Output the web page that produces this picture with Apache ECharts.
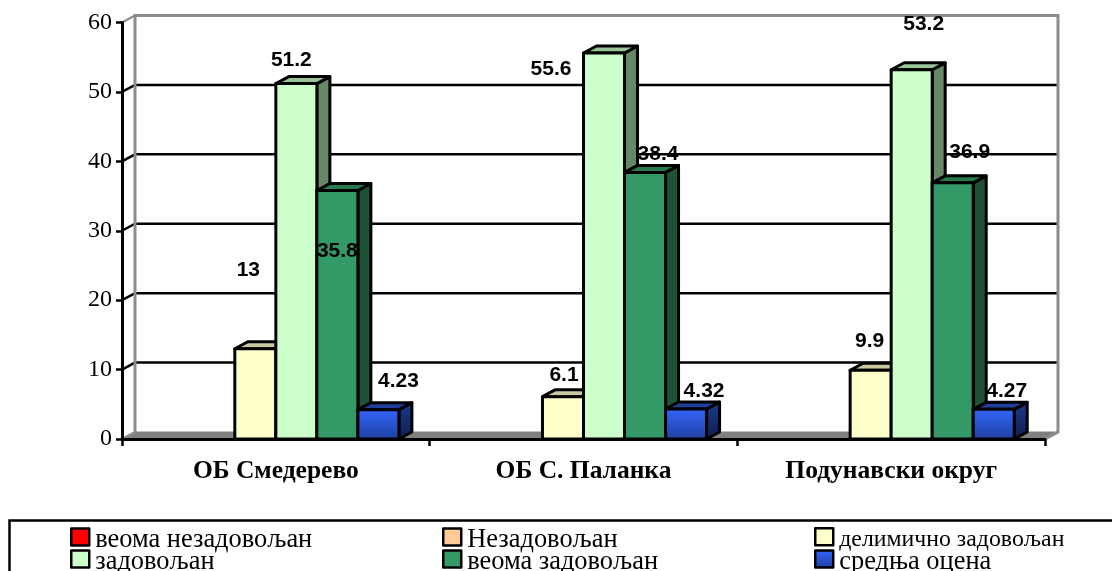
<!DOCTYPE html>
<html>
<head>
<meta charset="utf-8">
<style>html,body{margin:0;padding:0;background:#fff}#c{width:1112px;height:571px}</style>
<script src="https://cdn.jsdelivr.net/npm/echarts@6/dist/echarts.min.js"></script>
</head>
<body>
<div id="c"></div>
<script>
// Survey scores per district
const categories = ['ОБ Смедерево', 'ОБ С. Паланка', 'Подунавски округ'];
const seriesNames = ['веома незадовољан', 'Незадовољан', 'делимично задовољан', 'задовољан', 'веома задовољан', 'средња оцена'];
const veryDissatisfied = [null, null, null];
const dissatisfied = [null, null, null];
const partlySatisfied = [13, 6.1, 9.9];
const satisfied = [51.2, 55.6, 53.2];
const verySatisfied = [35.8, 38.4, 36.9];
const averageScore = [4.23, 4.32, 4.27];
const yTicks = [0, 10, 20, 30, 40, 50, 60];

// Hand placement of the value labels, pixels from the top centre of each bar
const labelShift = {
  2: [[-7, -79], [1, -21], [-1, -29]],
  3: [[-5, -23], [-53, 16], [12, -46]],
  4: [[0, 61], [13, -18], [17, -31]],
  5: [[20, -28], [18, -18], [13, -18]]
};

// Legend slots: column left edge, row top, and text size per entry
const legendColumns = [70, 442, 814];
const legendRows = [527, 549];
const legendFontSizes = [26.4, 26.4, 23.8, 26.4, 26.4, 26.4];

// Pseudo-3D depth of the bars and walls
const DX = 13, DY = 7;
const BARS_PER_BAND = 7.5;
const WALL = '#8c8c8c';

const vgrad = (a, b) => ({type: 'linear', x: 0, y: 0, x2: 0, y2: 1, colorStops: [{offset: 0, color: a}, {offset: 1, color: b}]});

const palette = [
  {front: '#ff0000', top: '#b00000', side: '#800000'},
  {front: '#ffcc99', top: '#c4a07a', side: '#997a5c'},
  {front: '#ffffcc', top: '#c9c99f', side: '#999979'},
  {front: '#ccffcc', top: '#99c499', side: '#668866'},
  {front: '#339966', top: '#267a4e', side: '#1d5236'},
  {front: vgrad('#3366ff', '#1f3f9c'), top: '#1f3f9c', side: vgrad('#1c3a8e', '#0e1d4c')}
];

function barItem(params, api, idx) {
  const v = api.value(1);
  if (v == null || isNaN(v)) return null;
  const w = api.size([1, 0])[0] / BARS_PER_BAND;
  const centre = api.coord([api.value(0), 0]);
  const topPt = api.coord([api.value(0), v]);
  const x0 = centre[0] + (idx - 3) * w, x1 = x0 + w;
  const yb = centre[1], yt = topPt[1];
  const line = {stroke: '#000', lineWidth: 3, lineJoin: 'round'};
  const c = palette[idx];
  return {
    type: 'group',
    children: [
      {type: 'polygon', shape: {points: [[x1, yt], [x1 + DX, yt - DY], [x1 + DX, yb - DY], [x1, yb]]}, style: Object.assign({fill: c.side}, line)},
      {type: 'polygon', shape: {points: [[x0, yt], [x0 + DX, yt - DY], [x1 + DX, yt - DY], [x1, yt]]}, style: Object.assign({fill: c.top}, line)},
      {type: 'rect', shape: {x: x0, y: yt, width: w, height: yb - yt}, style: Object.assign({fill: c.front}, line)}
    ]
  };
}

function wallItem(params, api) {
  const v = api.value(0);
  const cs = params.coordSys;
  const y = api.coord([0, v])[1];
  const xl = cs.x, xr = cs.x + cs.width;
  const edge = v === yTicks[0] || v === yTicks[yTicks.length - 1];
  const kids = [];
  if (v === yTicks[0]) {
    kids.push({type: 'polygon', shape: {points: [[xl, y], [xl + DX, y - DY], [xr + DX, y - DY], [xr, y]]}, style: {fill: '#808080', stroke: '#808080', lineWidth: 1}});
  }
  if (v === yTicks[yTicks.length - 1]) {
    const yb = y + cs.height;
    kids.push({type: 'polyline', shape: {points: [[xl + DX, yb - DY], [xl + DX, y - DY], [xr + DX, y - DY], [xr + DX, yb - DY], [xr, yb]]}, style: {fill: 'none', stroke: WALL, lineWidth: 3}});
  }
  if (!edge) {
    kids.push({type: 'polyline', shape: {points: [[xl, y], [xl + DX, y - DY], [xr + DX, y - DY]]}, style: {fill: 'none', stroke: '#000', lineWidth: 2.5}});
  } else {
    kids.push({type: 'line', shape: {x1: xl, y1: y, x2: xl + DX, y2: y - DY}, style: {stroke: WALL, lineWidth: 2}});
  }
  return {type: 'group', children: kids};
}

function labelItem(params, api) {
  const idx = api.value(2), cat = api.value(0), v = api.value(1);
  const w = api.size([1, 0])[0] / BARS_PER_BAND;
  const p = api.coord([cat, v]);
  const s = labelShift[idx][cat];
  return {
    type: 'text',
    style: {
      x: p[0] + (idx - 2.5) * w + s[0], y: p[1] + s[1],
      text: String(v), fill: '#000', align: 'center', verticalAlign: 'middle',
      font: 'bold 21px "Liberation Sans", Arial, sans-serif'
    }
  };
}

const valueSets = [veryDissatisfied, dissatisfied, partlySatisfied, satisfied, verySatisfied, averageScore];

const barSeries = seriesNames.map((name, idx) => ({
  name,
  type: 'custom',
  z: 3,
  renderItem: (p, a) => barItem(p, a, idx),
  encode: {x: 0, y: 1},
  itemStyle: {color: palette[idx].front},
  data: valueSets[idx].map((v, i) => [i, v])
}));

const labelData = [];
valueSets.forEach((vals, idx) => vals.forEach((v, i) => { if (v != null) labelData.push([i, v, idx]); }));

const serif = '"Liberation Serif", "Times New Roman", serif';

// One legend block per entry so the three columns line up independently of text width.
// The rich token pads the text down a little so it sits below the swatch centre.
const legends = seriesNames.map((name, i) => ({
  left: legendColumns[i % 3],
  top: legendRows[Math.floor(i / 3)],
  padding: 0, itemWidth: 18, itemHeight: 17, selectedMode: false,
  formatter: '{t|{name}}',
  textStyle: {
    color: '#000',
    rich: {t: {fontFamily: serif, fontSize: legendFontSizes[i], color: '#000', padding: [6, 0, 0, 1]}}
  },
  data: [{name, icon: 'rect', itemStyle: {color: palette[i].front, borderColor: '#000', borderWidth: 2.5, borderJoin: 'round'}}]
}));

const chart = echarts.init(document.getElementById('c'), null, {renderer: 'canvas'});
chart.setOption({
  animation: false,
  backgroundColor: '#fff',
  grid: {left: 122, right: 67, top: 22.5, bottom: 132, containLabel: false},
  legend: legends,
  graphic: [{
    type: 'rect', left: 7, top: 518, silent: true,
    shape: {width: 1110, height: 60},
    style: {fill: 'none', stroke: '#000', lineWidth: 2.5}
  }],
  xAxis: {
    type: 'category', data: categories, z: 5,
    axisLine: {lineStyle: {color: '#000', width: 3}},
    axisTick: {show: true, length: 7, lineStyle: {color: '#000', width: 2.5}},
    axisLabel: {margin: 19, color: '#000', fontFamily: serif, fontWeight: 'bold', fontSize: 25.5, interval: 0}
  },
  yAxis: {
    type: 'value', min: 0, max: 60, interval: 10, z: 5,
    axisLine: {show: true, lineStyle: {color: '#000', width: 3}},
    axisTick: {show: true, length: 6, lineStyle: {color: '#000', width: 2.5}},
    axisLabel: {margin: 10, color: '#000', fontFamily: serif, fontSize: 24},
    splitLine: {show: false}
  },
  series: [
    {type: 'custom', name: 'walls', z: 1, renderItem: wallItem, encode: {y: 0}, data: yTicks.map(v => [v])}
  ].concat(barSeries, [
    {type: 'custom', name: 'values', z: 8, renderItem: labelItem, encode: {x: 0, y: 1}, data: labelData}
  ])
});
</script>
</body>
</html>
